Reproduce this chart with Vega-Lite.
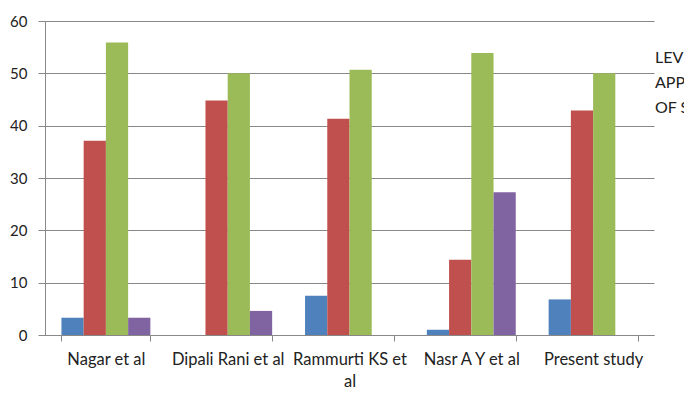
{
  "$schema": "https://vega.github.io/schema/vega-lite/v6.json",
  "width": 609,
  "height": 314,
  "autosize": "none",
  "padding": {"left": 45, "top": 21, "right": 30, "bottom": 59},
  "background": "white",
  "config": {
    "view": {"stroke": null},
    "font": "Lato",
    "axis": {"labelFont": "Lato", "labelColor": "#222222", "domainColor": "#888888", "tickColor": "#888888", "gridColor": "#888888"}
  },
  "data": {
    "values": [
      {"study": "Nagar et al", "series": "S1", "value": 3.3},
      {"study": "Nagar et al", "series": "S2", "value": 37.1},
      {"study": "Nagar et al", "series": "S3", "value": 55.9},
      {"study": "Nagar et al", "series": "S4", "value": 3.3},
      {"study": "Dipali Rani et al", "series": "S1", "value": 0},
      {"study": "Dipali Rani et al", "series": "S2", "value": 44.8},
      {"study": "Dipali Rani et al", "series": "S3", "value": 50},
      {"study": "Dipali Rani et al", "series": "S4", "value": 4.6},
      {"study": "Rammurti KS et al", "series": "S1", "value": 7.5},
      {"study": "Rammurti KS et al", "series": "S2", "value": 41.3},
      {"study": "Rammurti KS et al", "series": "S3", "value": 50.7},
      {"study": "Rammurti KS et al", "series": "S4", "value": 0},
      {"study": "Nasr A Y et al", "series": "S1", "value": 1.0},
      {"study": "Nasr A Y et al", "series": "S2", "value": 14.4},
      {"study": "Nasr A Y et al", "series": "S3", "value": 53.9},
      {"study": "Nasr A Y et al", "series": "S4", "value": 27.3},
      {"study": "Present study", "series": "S1", "value": 6.8},
      {"study": "Present study", "series": "S2", "value": 42.9},
      {"study": "Present study", "series": "S3", "value": 50},
      {"study": "Present study", "series": "S4", "value": 0}
    ]
  },
  "mark": {"type": "bar"},
  "encoding": {
    "x": {
      "field": "study", "type": "nominal", "sort": null,
      "scale": {"paddingInner": 0.27, "paddingOuter": 0.135},
      "axis": {
        "title": null, "labelAngle": 0, "tickBand": "extent", "ticks": true, "tickSize": 6,
        "labelFontSize": 16.5, "labelPadding": 10, "labelOverlap": false, "labelLimit": 300, "labelBaseline": "top", "labelLineHeight": 22,
        "labelExpr": "datum.label == 'Rammurti KS et al' ? ['Rammurti KS et', 'al'] : datum.label"
      }
    },
    "xOffset": {"field": "series", "type": "nominal", "scale": {"paddingInner": 0, "paddingOuter": 0}},
    "y": {
      "field": "value", "type": "quantitative",
      "scale": {"domain": [0, 60], "nice": false},
      "axis": {"title": null, "values": [0, 10, 20, 30, 40, 50, 60], "labelFontSize": 15, "tickSize": 7, "labelPadding": 11, "grid": true, "gridWidth": 1.2, "domain": true}
    },
    "color": {
      "field": "series", "type": "nominal",
      "scale": {"domain": ["S1", "S2", "S3", "S4"], "range": ["#4F81BD", "#C0504D", "#9BBB59", "#8064A2"]},
      "legend": {
        "orient": "none", "legendX": 610, "legendY": 29,
        "title": ["LEVEL OF", "\u00a0\u00a0APPROACH", "OF STUDY"],
        "titleFont": "Lato", "titleFontSize": 16, "titleFontWeight": "normal", "titleColor": "#222222",
        "titleLineHeight": 25, "titleLimit": 200,
        "labelExpr": "''", "symbolOpacity": 0, "symbolStrokeWidth": 0
      }
    }
  }
}
